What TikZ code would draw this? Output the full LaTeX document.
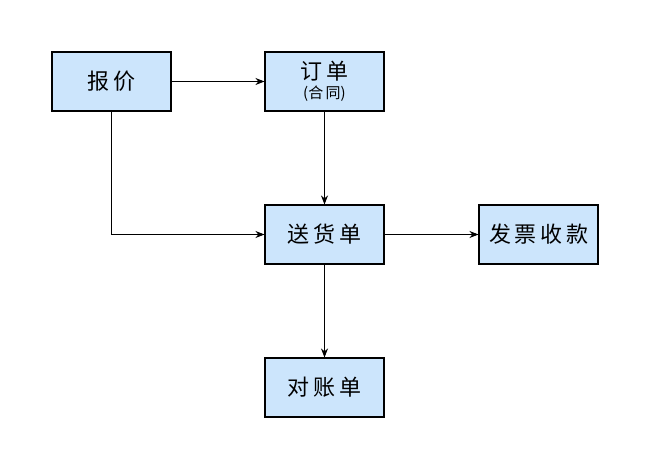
\documentclass[tikz,border=0pt]{standalone}
\usepackage{fontspec}
\usepackage{tikz}
\usetikzlibrary{arrows.meta,positioning}
\newfontfamily\cjk{Noto Sans CJK SC}
\definecolor{boxblue}{HTML}{CCE5FC}
\tikzset{
  docbox/.style={draw=black,line width=1.1pt,fill=boxblue,minimum width=119pt,minimum height=59pt,inner sep=0pt,align=center,font=\cjk\fontsize{22}{24}\selectfont},
  flow/.style={-{Stealth[length=9pt,width=7pt]},line width=0.9pt}
}

\begin{document}
\begin{tikzpicture}[x=1pt,y=-1pt]
        \useasboundingbox[fill=white] (0,0) rectangle (650,470);
        \node[docbox] (baojia) at (111.5,81.5) {报\,价};
        \node[docbox] (dingdan) at (324.5,81.5) {订\,单\\[-5pt]{\fontsize{15}{17}\selectfont (合\,同)}};
        \node[docbox] (songhuo) at (324.5,234.5) {送\,货\,单};
        \node[docbox] (fapiao) at (538.5,234.5) {发\,票\,收\,款};
        \node[docbox] (duizhang) at (324.5,387.5) {对\,账\,单};
        \draw[flow] (baojia) -- (dingdan);
        \draw[flow] (dingdan) -- (songhuo);
        \draw[flow] (baojia.south) |- (songhuo.west);
        \draw[flow] (songhuo) -- (fapiao);
        \draw[flow] (songhuo) -- (duizhang);
      \end{tikzpicture}
\end{document}
